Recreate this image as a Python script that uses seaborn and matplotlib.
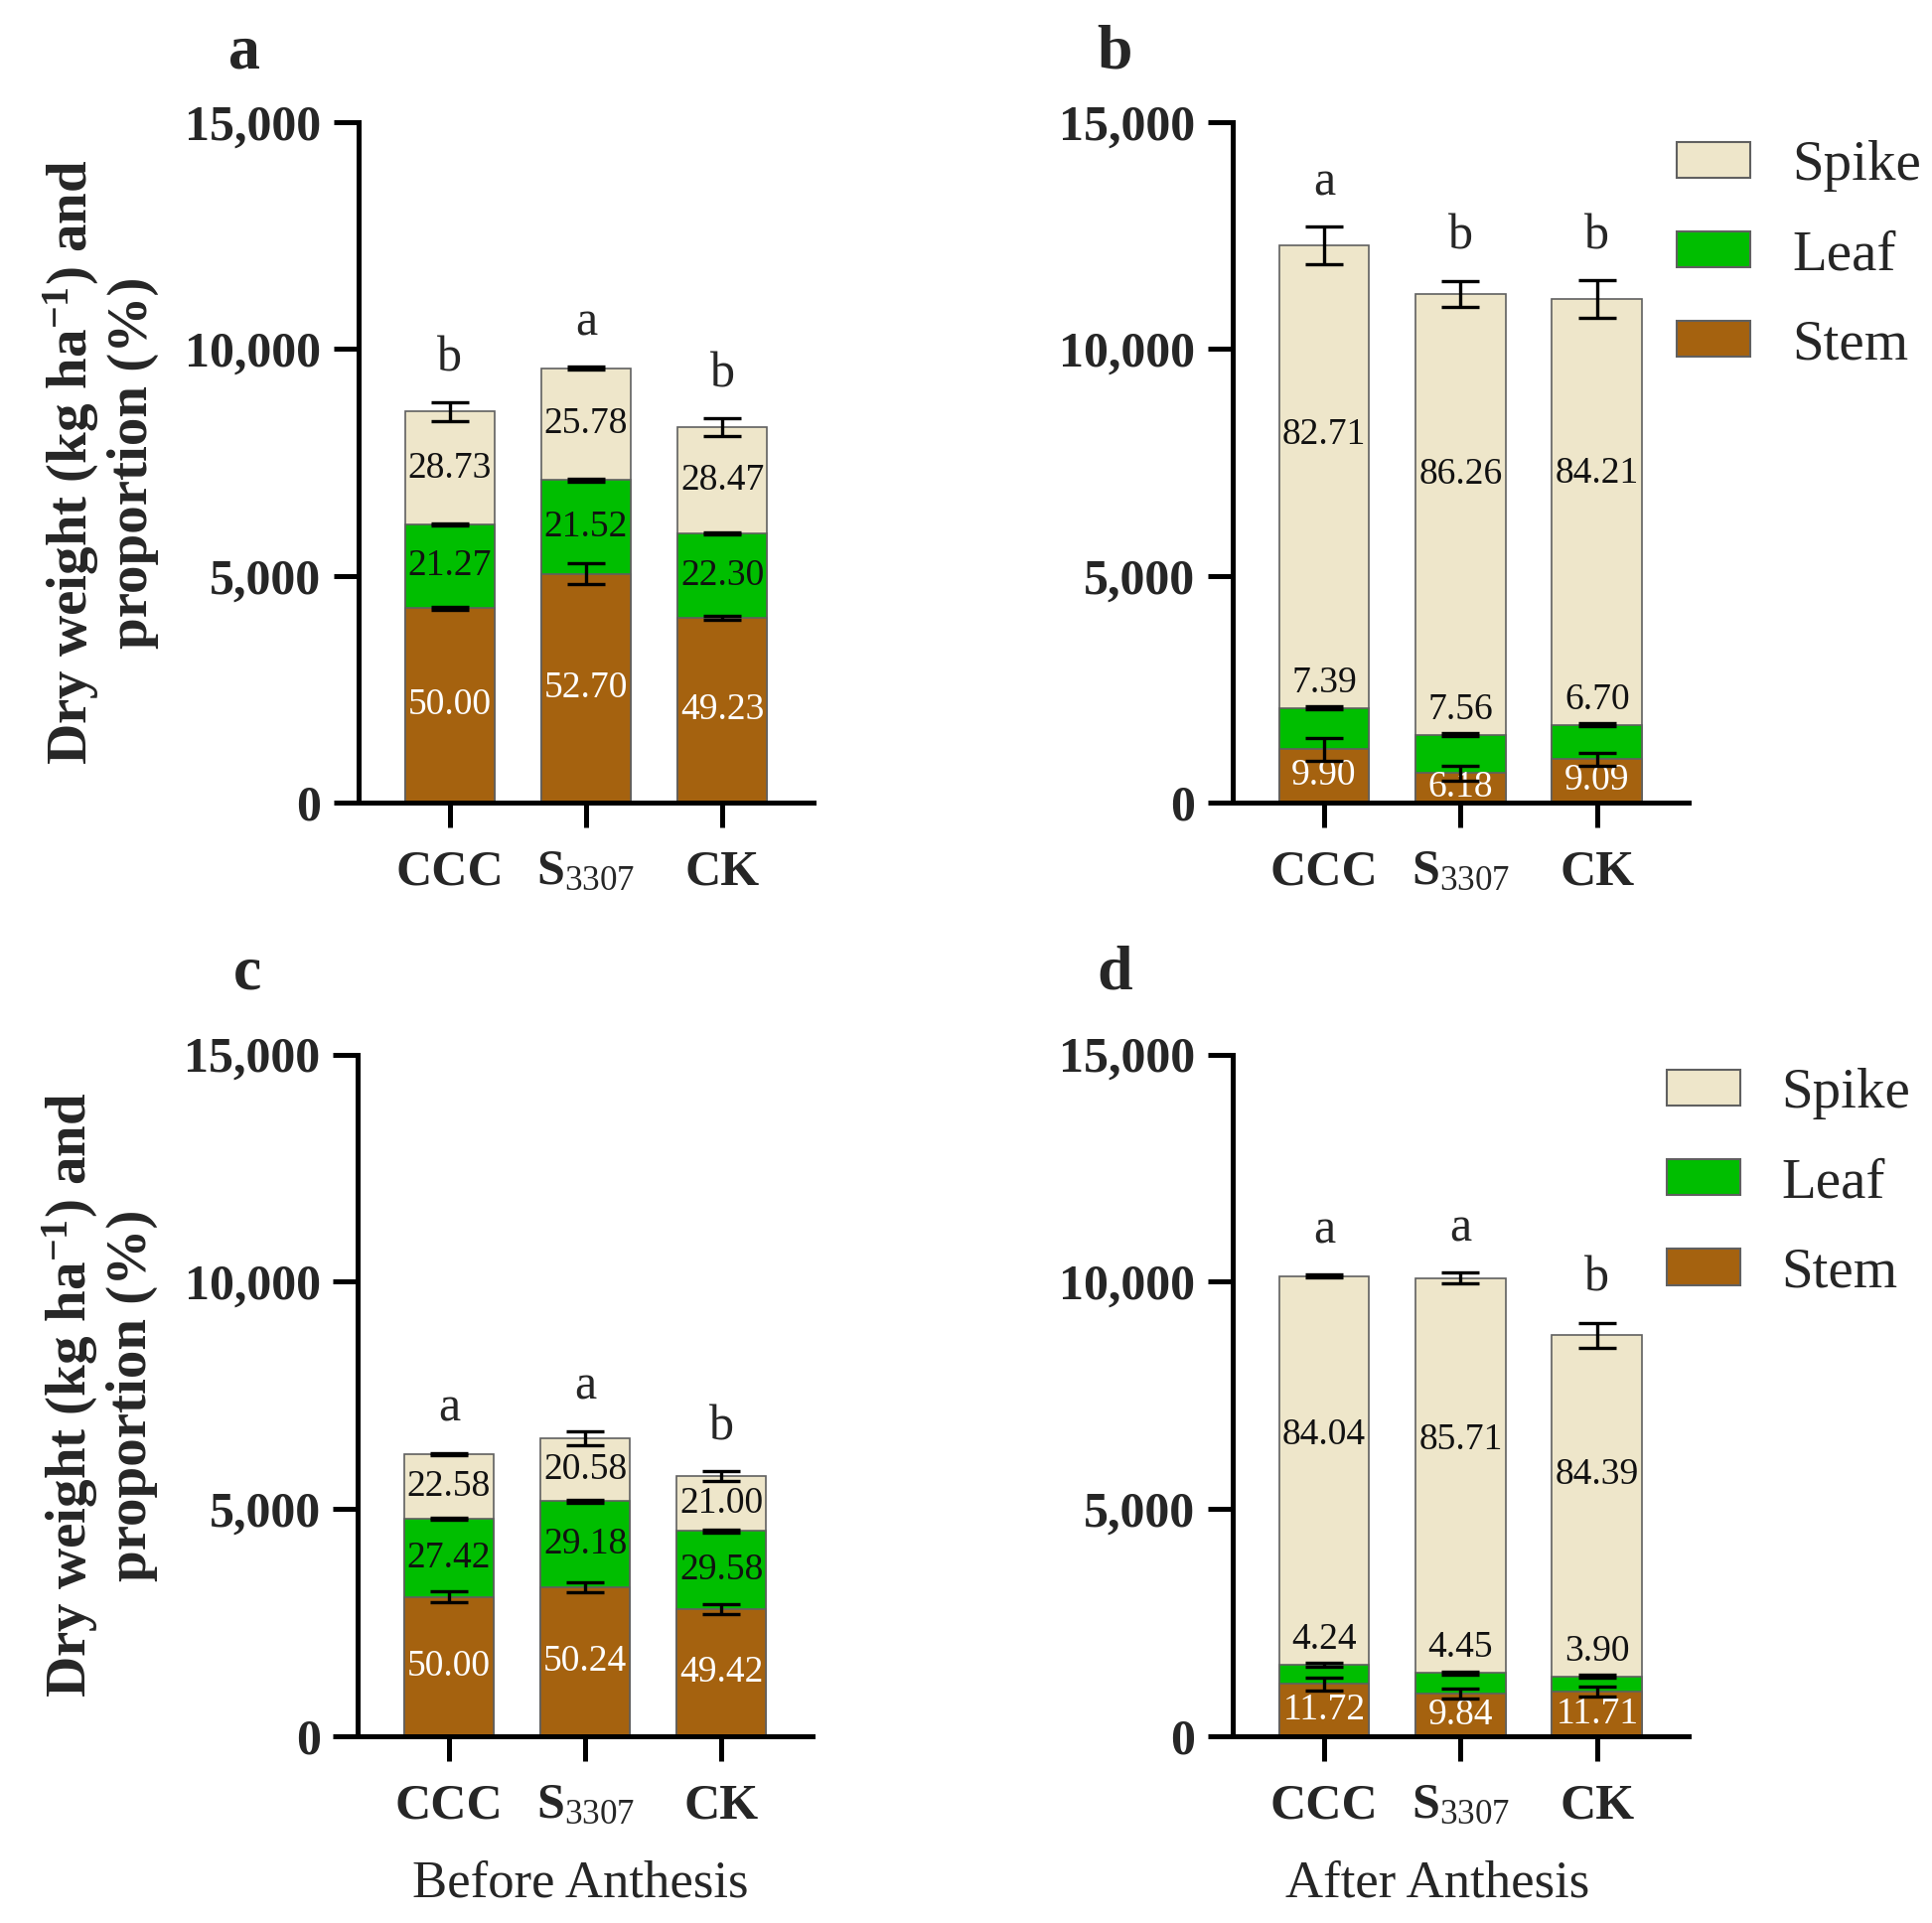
import matplotlib
matplotlib.use('Agg')
import matplotlib.pyplot as plt
import seaborn as sns
import pandas as pd
from matplotlib.patches import Patch
from matplotlib.ticker import FuncFormatter

sns.set_style('ticks')
plt.rcParams['font.family'] = ['Liberation Serif', 'DejaVu Serif']
plt.rcParams['mathtext.fontset'] = 'custom'
plt.rcParams['mathtext.rm'] = 'Liberation Serif'
plt.rcParams['mathtext.bf'] = 'Liberation Serif:bold'
plt.rcParams['mathtext.it'] = 'Liberation Serif:italic'

groups = ['CCC', 'S3307', 'CK']
group_ticks = ['CCC', r'$\mathbf{S}_{\mathrm{3307}}$', 'CK']
organs = ['Spike', 'Leaf', 'Stem']

# dry weight of each organ (kg/ha)
# a: before anthesis (year 1)
stem_a = [4290, 5040, 4075]
leaf_a = [1840, 2070, 1860]
spike_a = [2490, 2470, 2345]
stem_err_a = [30, 230, 40]
leaf_err_a = [25, 25, 25]
spike_err_a = [200, 30, 190]
pct_stem_a = ['50.00', '52.70', '49.23']
pct_leaf_a = ['21.27', '21.52', '22.30']
pct_spike_a = ['28.73', '25.78', '28.47']
sig_a = ['b', 'a', 'b']

# b: after anthesis (year 1)
stem_b = [1180, 650, 960]
leaf_b = [910, 850, 760]
spike_b = [10190, 9720, 9380]
stem_err_b = [250, 170, 140]
leaf_err_b = [40, 40, 40]
spike_err_b = [415, 285, 410]
pct_stem_b = ['9.90', '6.18', '9.09']
pct_leaf_b = ['7.39', '7.56', '6.70']
pct_spike_b = ['82.71', '86.26', '84.21']
sig_b = ['a', 'b', 'b']

# c: before anthesis (year 2)
stem_c = [3070, 3270, 2800]
leaf_c = [1710, 1900, 1720]
spike_c = [1420, 1390, 1200]
stem_err_c = [120, 110, 110]
leaf_err_c = [25, 25, 30]
spike_err_c = [25, 150, 110]
pct_stem_c = ['50.00', '50.24', '49.42']
pct_leaf_c = ['27.42', '29.18', '29.58']
pct_spike_c = ['22.58', '20.58', '21.00']
sig_c = ['a', 'a', 'b']

# d: after anthesis (year 2)
stem_d = [1150, 930, 980]
leaf_d = [430, 460, 340]
spike_d = [8540, 8690, 7500]
stem_err_d = [140, 110, 110]
leaf_err_d = [40, 40, 40]
spike_err_d = [30, 120, 270]
pct_stem_d = ['11.72', '9.84', '11.71']
pct_leaf_d = ['4.24', '4.45', '3.90']
pct_spike_d = ['84.04', '85.71', '84.39']
sig_d = ['a', 'a', 'b']

c_spike, c_leaf, c_stem = '#EEE6CA', '#00BE00', '#A5620F'
edge = '#606060'

panels = {
    'a': (stem_a, leaf_a, spike_a, stem_err_a, leaf_err_a, spike_err_a, pct_stem_a, pct_leaf_a, pct_spike_a, sig_a),
    'b': (stem_b, leaf_b, spike_b, stem_err_b, leaf_err_b, spike_err_b, pct_stem_b, pct_leaf_b, pct_spike_b, sig_b),
    'c': (stem_c, leaf_c, spike_c, stem_err_c, leaf_err_c, spike_err_c, pct_stem_c, pct_leaf_c, pct_spike_c, sig_c),
    'd': (stem_d, leaf_d, spike_d, stem_err_d, leaf_err_d, spike_err_d, pct_stem_d, pct_leaf_d, pct_spike_d, sig_d),
}
boxes = {
    'a': [0.1856, 0.5826, 0.2355, 0.3538],
    'b': [0.6380, 0.5826, 0.2360, 0.3538],
    'c': [0.1851, 0.0971, 0.2355, 0.3546],
    'd': [0.6380, 0.0971, 0.2360, 0.3546],
}
letter_pos = {'a': (0.1265, 0.9726), 'b': (0.577, 0.9726),
              'c': (0.128, 0.4938), 'd': (0.577, 0.4938)}

fig = plt.figure(figsize=(19.45, 19.36), dpi=100)

for key, vals in panels.items():
    stem, leaf, spike, e_stem, e_leaf, e_spike, p_stem, p_leaf, p_spike, sig = vals
    ax = fig.add_axes(boxes[key])
    df = pd.DataFrame({'group': groups, 'stem': stem, 'leaf': leaf, 'spike': spike})
    df['stem_top'] = df['stem']
    df['leaf_top'] = df['stem'] + df['leaf']
    df['total'] = df['leaf_top'] + df['spike']
    for col, color in [('total', c_spike), ('leaf_top', c_leaf), ('stem_top', c_stem)]:
        sns.barplot(data=df, x='group', y=col, color=color, saturation=1, width=0.66,
                    edgecolor=edge, linewidth=1.2, errorbar=None, ax=ax)
    xs = list(range(len(groups)))
    for col, err in [('stem_top', e_stem), ('leaf_top', e_leaf), ('total', e_spike)]:
        ax.errorbar(xs, df[col], yerr=err, fmt='none', ecolor='black',
                    elinewidth=2.4, capsize=14, capthick=2.4, zorder=3)

    after = key in ('b', 'd')
    for i in xs:
        st, lt, tot = df['stem_top'][i], df['leaf_top'][i], df['total'][i]
        ax.text(i, st / 2, p_stem[i], ha='center', va='center', fontsize=27,
                color='white', zorder=2.2)
        if after:
            ax.text(i, lt + 550, p_leaf[i], ha='center', va='center', fontsize=27,
                    color='#111111', zorder=2.2)
            ax.text(i, lt + 0.59 * (tot - lt), p_spike[i], ha='center', va='center',
                    fontsize=27, color='#111111', zorder=2.2)
        else:
            ax.text(i, (st + lt) / 2, p_leaf[i], ha='center', va='center', fontsize=27,
                    color='#111111', zorder=2.2)
            ax.text(i, (lt + tot) / 2, p_spike[i], ha='center', va='center', fontsize=27,
                    color='#111111', zorder=2.2)
        ax.text(i, tot + e_spike[i] + 970, sig[i], ha='center', va='center', fontsize=36)

    ax.set_xlim(-0.67, 2.67)
    ax.set_ylim(0, 15000)
    ax.set_yticks([0, 5000, 10000, 15000])
    ax.yaxis.set_major_formatter(FuncFormatter(lambda v, p: f'{int(v):,}'))
    for lab in ax.get_yticklabels():
        lab.set_fontweight('bold')
        lab.set_fontsize(36)
    ax.set_xticks(xs)
    ax.set_xticklabels(group_ticks, fontweight='bold', fontsize=36)
    ax.set_xlabel('')
    ax.set_ylabel('')
    sns.despine(ax=ax)
    for s in ['left', 'bottom']:
        ax.spines[s].set_linewidth(3.6)
        ax.spines[s].set_color('black')
    ax.tick_params(axis='both', length=18, width=3.6, color='black', direction='out')
    ax.tick_params(axis='x', pad=16)
    ax.tick_params(axis='y', pad=9)

    if key in ('a', 'c'):
        ax.set_ylabel('Dry weight (kg ha$^{\\mathbf{-1}}$) and\nproportion (%)',
                      fontsize=41, fontweight='bold', linespacing=1.15,
                      ha='center', va='center')
        ax.yaxis.set_label_coords(-0.568, 0.5)
    if key == 'c':
        ax.set_xlabel('Before Anthesis', fontsize=38, va='center')
        ax.xaxis.set_label_coords(0.49, -0.216)
    if key == 'd':
        ax.set_xlabel('After Anthesis', fontsize=38, va='center')
        ax.xaxis.set_label_coords(0.45, -0.216)
    if after:
        handles = [Patch(facecolor=c, edgecolor=edge, linewidth=1.5)
                   for c in (c_spike, c_leaf, c_stem)]
        top = 0.9272 if key == 'b' else 0.4447
        x0 = 0.868 if key == 'b' else 0.8625
        ax.legend(handles, organs, loc='upper left', bbox_to_anchor=(x0, top),
                  bbox_transform=fig.transFigure, frameon=False, fontsize=41,
                  handlelength=1.3, handleheight=0.61, handletextpad=0.74,
                  labelspacing=0.67, borderpad=0, borderaxespad=0)

    fig.text(*letter_pos[key], key, fontsize=46, fontweight='bold', ha='center', va='center')

fig.savefig('out.png', dpi=100)
